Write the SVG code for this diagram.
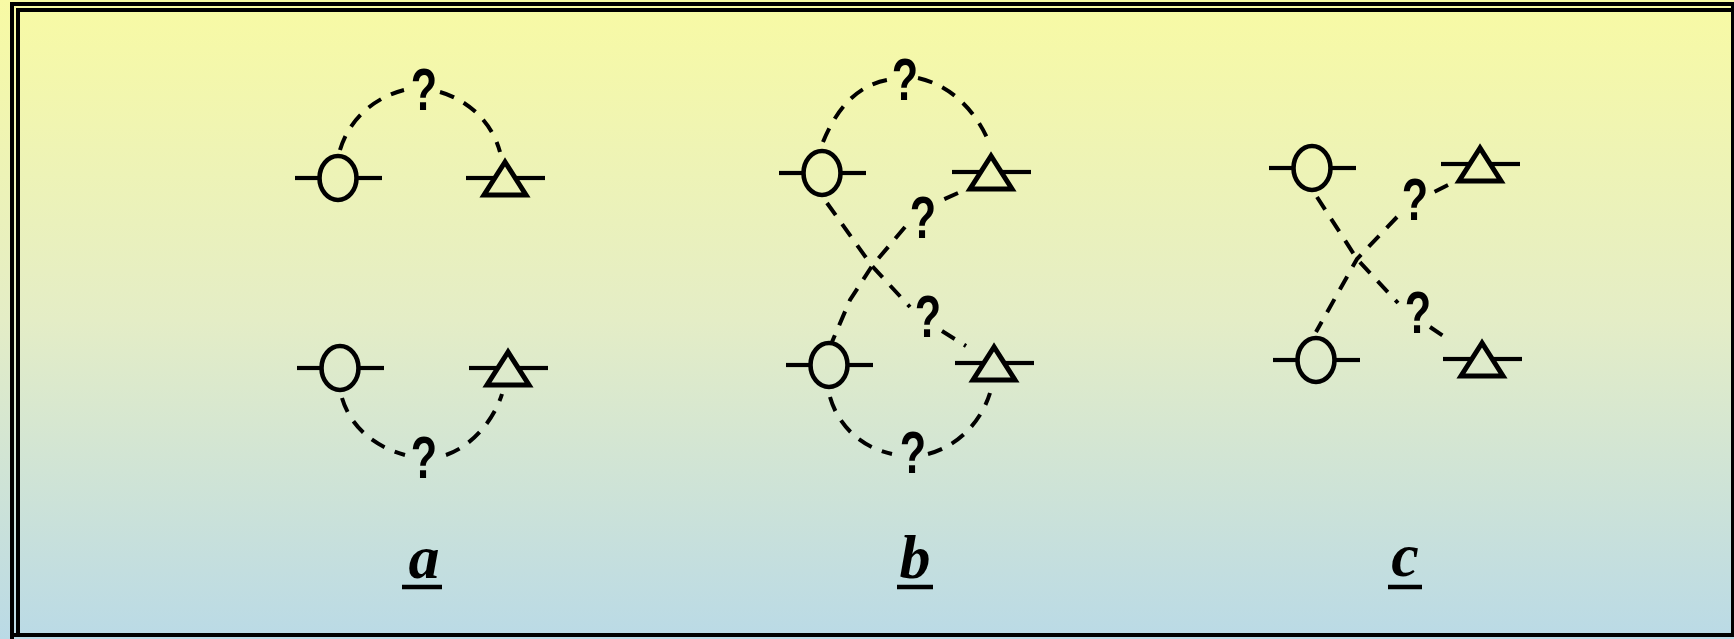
<svg xmlns="http://www.w3.org/2000/svg" width="1734" height="639" viewBox="0 0 1734 639">
  <defs>
    <linearGradient id="bg" x1="0" y1="0" x2="0" y2="1">
      <stop offset="0" stop-color="#f8faa4"/>
      <stop offset="0.5" stop-color="#e4edc6"/>
      <stop offset="1" stop-color="#badae6"/>
    </linearGradient>
    <g id="circ">
      <ellipse cx="0" cy="0" rx="18.5" ry="22" fill="none" stroke="#000" stroke-width="4.6"/>
      <line x1="-43" y1="0" x2="-18.5" y2="0" stroke="#000" stroke-width="4.2"/>
      <line x1="18.5" y1="0" x2="44" y2="0" stroke="#000" stroke-width="4.2"/>
    </g>
    <g id="tri">
      <polygon points="0,-16 -21,17 21,17" fill="none" stroke="#000" stroke-width="5" stroke-linejoin="miter"/>
      <line x1="-39" y1="0" x2="-10" y2="0" stroke="#000" stroke-width="4.2"/>
      <line x1="10" y1="0" x2="40" y2="0" stroke="#000" stroke-width="4.2"/>
    </g>
  </defs>
  <style>
    .dash { fill: none; stroke: #000; stroke-width: 4; stroke-dasharray: 15 11; stroke-linecap: butt; }
    .q { font-family: "Liberation Sans", Arial, sans-serif; font-weight: bold; font-size: 60px; text-anchor: middle; fill: #000; }
    .lbl { font-family: "Liberation Serif", "Times New Roman", serif; font-style: italic; font-weight: bold; font-size: 62px; text-anchor: middle; fill: #000; }
    .ul { stroke: #000; stroke-width: 4.5; }
    .frame { fill: none; stroke: #000; }
  </style>

  <rect x="0" y="0" width="1734" height="639" fill="url(#bg)"/>

  <g id="frame">
    <path class="frame" d="M12,639 V4 H1733 V635 H12" stroke-width="4"/>
    <path class="frame" d="M18,635 V10 H1732" stroke-width="4"/>
  </g>

  <g id="connectors">
    <!-- panel a -->
    <path class="dash" d="M340,150 C348,122 372,98 404,90"/>
    <path class="dash" d="M440,92 C468,100 492,122 500,152"/>
    <path class="dash" d="M342,398 C350,425 372,446 405,455"/>
    <path class="dash" d="M446,455 C472,446 494,420 502,394"/>
    <!-- panel b -->
    <path class="dash" d="M823,142 C838,105 860,85 887,80"/>
    <path class="dash" d="M918,78 C950,85 975,110 988,140"/>
    <path class="dash" d="M958,193 L938,202"/>
    <path class="dash" d="M905,227 L872,266 L850,300 L832,342"/>
    <path class="dash" d="M827,203 L872,266 L910,307"/>
    <path class="dash" d="M942,331 L966,346"/>
    <path class="dash" d="M830,397 C838,425 860,447 892,454"/>
    <path class="dash" d="M928,454 C955,447 980,425 990,393"/>
    <!-- panel c -->
    <path class="dash" d="M1448,185 L1432,193"/>
    <path class="dash" d="M1397,217 L1357,259 L1316,332"/>
    <path class="dash" d="M1317,197 L1357,259 L1398,303"/>
    <path class="dash" d="M1430,327 L1449,340"/>
  </g>

  <g id="a-c1"><use href="#circ" x="338" y="178"/></g>
  <g id="a-t1"><use href="#tri" x="505" y="178"/></g>
  <g id="a-c2"><use href="#circ" x="340" y="368"/></g>
  <g id="a-t2"><use href="#tri" x="508" y="368"/></g>

  <g id="b-c1"><use href="#circ" x="822" y="173"/></g>
  <g id="b-t1"><use href="#tri" x="991" y="172"/></g>
  <g id="b-c2"><use href="#circ" x="829" y="365"/></g>
  <g id="b-t2"><use href="#tri" x="994" y="363"/></g>

  <g id="c-c1"><use href="#circ" x="1312" y="168"/></g>
  <g id="c-t1"><use href="#tri" x="1480" y="164"/></g>
  <g id="c-c2"><use href="#circ" x="1316" y="360"/></g>
  <g id="c-t2"><use href="#tri" x="1482" y="359"/></g>

  <g id="questions">
    <text class="q" transform="translate(424,110) scale(0.72,1)">?</text>
    <text class="q" transform="translate(424,478) scale(0.72,1)">?</text>
    <text class="q" transform="translate(905,100) scale(0.72,1)">?</text>
    <text class="q" transform="translate(923,238) scale(0.72,1)">?</text>
    <text class="q" transform="translate(928,337) scale(0.72,1)">?</text>
    <text class="q" transform="translate(913,473) scale(0.72,1)">?</text>
    <text class="q" transform="translate(1415,220) scale(0.72,1)">?</text>
    <text class="q" transform="translate(1418,333) scale(0.72,1)">?</text>
  </g>

  <g id="labels">
    <text class="lbl" x="424" y="578">a</text>
    <line class="ul" x1="402" y1="587" x2="442" y2="587"/>
    <text class="lbl" x="915" y="578">b</text>
    <line class="ul" x1="897" y1="587" x2="933" y2="587"/>
    <text class="lbl" x="1405" y="576">c</text>
    <line class="ul" x1="1388" y1="587" x2="1422" y2="587"/>
  </g>
</svg>
